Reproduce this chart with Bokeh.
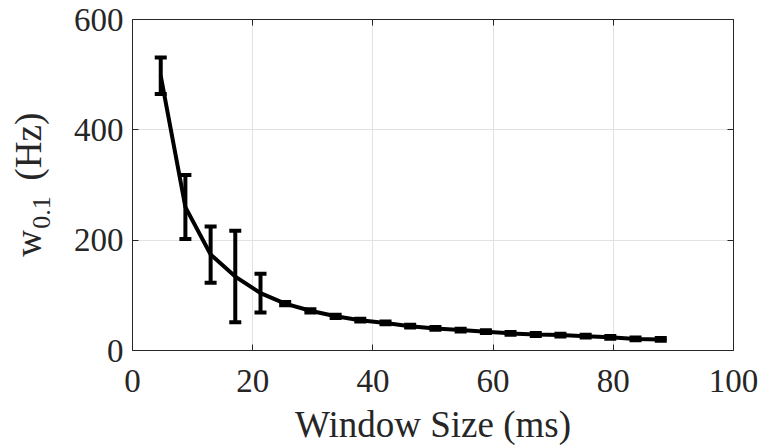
from bokeh.plotting import figure
from bokeh.layouts import row
from bokeh.models import (Range1d, FixedTicker, LinearAxis, Label, Whisker,
                          TeeHead, ColumnDataSource, CustomJSTickFormatter)
from bokeh.embed import file_html
from bokeh.resources import INLINE

# ---- data ----
window_ms = [4.7, 8.8, 13.0, 17.1, 21.3, 25.4, 29.6, 33.8, 37.9, 42.1, 46.2,
             50.4, 54.6, 58.8, 62.9, 67.1, 71.2, 75.4, 79.5, 83.7, 87.9]
w01_hz = [498, 260, 174, 134, 104, 85, 72, 62, 55, 50, 44,
          40, 37, 34, 31, 29, 28, 26, 24, 21, 20]
w01_err = [33, 58, 51, 83, 35, 3, 3, 3, 2.5, 2.5, 2.5,
           2.5, 2.5, 2.5, 2.5, 2.5, 2.5, 2.5, 2.5, 2.5, 2.5]
x_ticks = [0, 20, 40, 60, 80, 100]
y_ticks = [0, 200, 400, 600]
x_label = "Window Size (ms)"
y_label_main = "w"
y_label_sub = "0.1"
y_label_unit = "(Hz)"

lower = [m - e for m, e in zip(w01_hz, w01_err)]
upper = [m + e for m, e in zip(w01_hz, w01_err)]
src = ColumnDataSource(dict(x=window_ms, y=w01_hz, lo=lower, hi=upper))

FONT = "Liberation Serif"
TXT = "#262626"
W, H = 761, 447
YW = 60            # width of the strip that holds the y-axis title
FL, FR, FT, FB = 132, 733, 19, 351  # frame edges in page pixels

# ---- strip for the y-axis title (its frame is aligned with the main frame,
#      so the range is chosen to give page-pixel coordinates) ----
ytitle = figure(width=YW, height=H, output_backend="svg", toolbar_location=None,
                x_range=Range1d(0, YW), y_range=Range1d(H - FB, H - FT),
                min_border=0, min_border_top=FT, min_border_bottom=H - FB,
                x_axis_location=None, y_axis_location=None)
ytitle.outline_line_color = None
ytitle.xgrid.visible = False
ytitle.ygrid.visible = False

def lab(text, cx, cy, size):
    ytitle.add_layout(Label(x=cx, y=H - cy, text=text, text_font=FONT,
                            text_font_size=size, text_color=TXT,
                            angle=1.5707963, text_align="center",
                            text_baseline="middle"))

lab(y_label_main, 28, 243.5, "37px")
lab(y_label_sub, 41, 212.5, "26px")
lab(y_label_unit, 28, 146.5, "37px")

# ---- main plot ----
p = figure(width=W - YW, height=H, output_backend="svg", toolbar_location=None,
           x_range=Range1d(0, 100), y_range=Range1d(0, 600),
           min_border_left=FL - YW, min_border_right=W - FR, min_border_top=FT,
           min_border_bottom=H - FB, x_axis_location=None, y_axis_location=None)
p.outline_line_color = None
p.background_fill_color = "white"
p.border_fill_color = "white"

def style_axis(ax, ticks, labels=True):
    ax.ticker = FixedTicker(ticks=ticks)
    ax.axis_line_color = TXT
    ax.axis_line_width = 1
    ax.major_tick_line_color = TXT
    ax.major_tick_in = 6
    ax.major_tick_out = 0
    ax.minor_tick_line_color = None
    ax.major_label_text_font = FONT
    ax.major_label_text_color = TXT
    ax.major_label_text_font_size = "33px"
    if not labels:
        ax.formatter = CustomJSTickFormatter(code="return ''")
        ax.major_label_standoff = 0

xb = LinearAxis(axis_label=x_label)
style_axis(xb, x_ticks)
xb.major_label_standoff = 19
xb.axis_label_standoff = 9
xb.axis_label_text_font = FONT
xb.axis_label_text_font_size = "37px"
xb.axis_label_text_font_style = "normal"
xb.axis_label_text_color = TXT
p.add_layout(xb, "below")
yl = LinearAxis()
style_axis(yl, y_ticks)
yl.major_label_standoff = 9
p.add_layout(yl, "left")
xt = LinearAxis()
style_axis(xt, x_ticks, labels=False)
p.add_layout(xt, "above")
yr = LinearAxis()
style_axis(yr, y_ticks, labels=False)
p.add_layout(yr, "right")

p.xgrid.ticker = FixedTicker(ticks=x_ticks)
p.ygrid.ticker = FixedTicker(ticks=y_ticks)
for g in (p.xgrid, p.ygrid):
    g.grid_line_color = "#e2e2e2"
    g.grid_line_width = 1

# line through means
p.line("x", "y", source=src, line_color="black", line_width=4)

# error bars
wh = Whisker(source=src, base="x", lower="lo", upper="hi", dimension="height",
             line_color="black", line_width=4,
             lower_head=TeeHead(size=12, line_width=4, line_color="black"),
             upper_head=TeeHead(size=12, line_width=4, line_color="black"))
p.add_layout(wh)

layout = row(ytitle, p, spacing=0)
open("out.html", "w").write(file_html(layout, INLINE))
